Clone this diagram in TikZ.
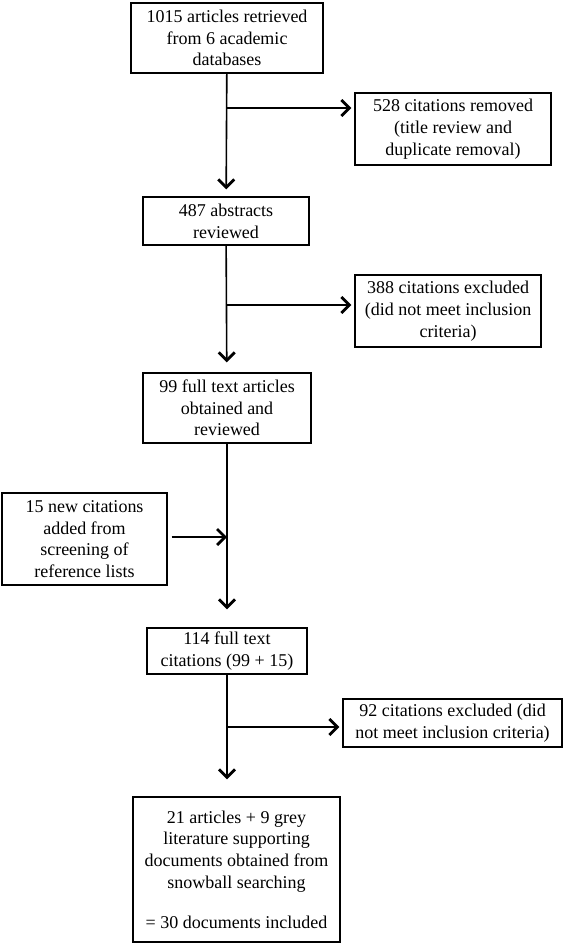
\documentclass[tikz,border=0pt]{standalone}
\usepackage{fontspec}
\setmainfont{Liberation Serif}
\usetikzlibrary{arrows.meta}
\tikzset{
  stagebox/.style={draw, line width=1.3pt, align=center, inner sep=0pt,
    font=\fontsize{18}{21.7}\selectfont},
  flowline/.style={line width=1.6pt,
    -{Straight Barb[length=8pt,width=16pt,line width=2.8pt]}},
}
\begin{document}
\begin{tikzpicture}[x=1pt,y=-1pt]
  \useasboundingbox (0,0) rectangle (567,946);
  % search
  \node[stagebox, minimum width=192pt, minimum height=70pt] (n1) at (227,38)
    {1015 articles retrieved\\from 6 academic\\databases};
  \node[stagebox, minimum width=196pt, minimum height=72pt] (n2) at (453,129)
    {528 citations removed\\(title review and\\duplicate removal)};
  % abstracts
  \node[stagebox, minimum width=166pt, minimum height=48pt] (n3) at (226,221)
    {487 abstracts\\reviewed};
  \node[stagebox, minimum width=186pt, minimum height=72pt] (n4) at (448,311)
    {388 citations excluded\\(did not meet inclusion\\criteria)};
  % full text
  \node[stagebox, minimum width=168pt, minimum height=70pt] (n5) at (227,408)
    {99 full text articles\\obtained and\\reviewed};
  \node[stagebox, minimum width=165pt, minimum height=92pt] (n6) at (84.5,539)
    {15 new citations\\added from\\screening of\\reference lists};
  \node[stagebox, minimum width=160pt, minimum height=46pt] (n7) at (227,651)
    {114 full text\\citations (99 + 15)};
  \node[stagebox, minimum width=219pt, minimum height=48pt] (n8) at (452.5,723)
    {92 citations excluded (did\\not meet inclusion criteria)};
  % included
  \node[stagebox, minimum width=207pt, minimum height=145pt] (n9) at (236.5,869.5)
    {21 articles + 9 grey\\literature supporting\\documents obtained from\\snowball searching\\[18pt]= 30 documents included};
  % branch points on the main line
  \coordinate (j1) at (227,108);
  \coordinate (j2) at (227,305);
  \coordinate (j3) at (227,537);
  \coordinate (j4) at (227,727);
  % main flow
  \draw[flowline, shorten >=7pt] (n1) -- (n3);
  \draw[flowline, shorten >=10pt] (n3) -- (n5);
  \draw[flowline, shorten >=18pt] (n5) -- (n7);
  \draw[flowline, shorten >=17pt] (n7.south) -- (n7.south |- n9.north);
  % side arrows
  \draw[flowline, shorten >=3pt] (j1) -- (j1 -| n2.west);
  \draw[flowline, shorten >=3pt] (j2) -- (j2 -| n4.west);
  \draw[flowline, shorten <=4pt] (j3 -| n6.east) -- (j3);
  \draw[flowline, shorten >=3pt] (j4) -- (j4 -| n8.west);
\end{tikzpicture}
\end{document}
